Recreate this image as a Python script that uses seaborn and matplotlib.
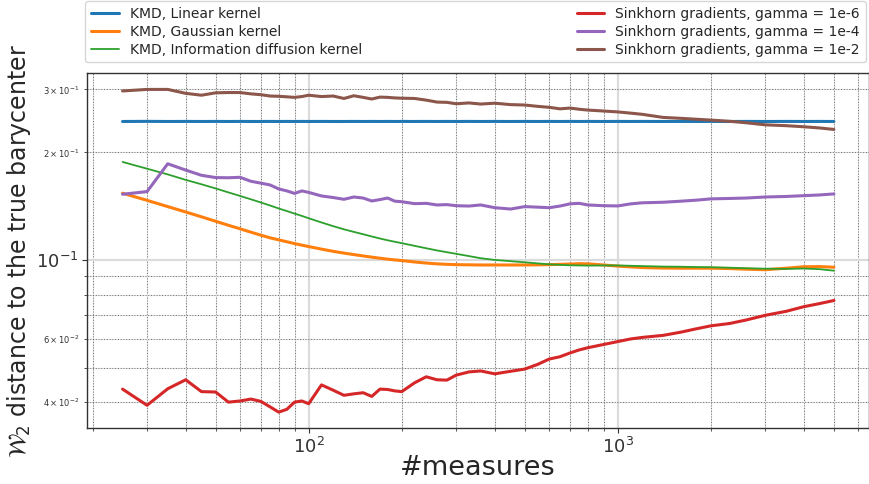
import matplotlib
matplotlib.use("Agg")
import matplotlib.pyplot as plt
import seaborn as sns
import pandas as pd

# number of input measures
measures = [25, 30, 35, 40, 45, 50, 55, 60, 65, 70, 75, 80, 85, 90, 95, 100,
            110, 120, 130, 140, 150, 160, 170, 180, 190, 200,
            220, 240, 260, 280, 300, 330, 360,
            400, 450, 500, 550, 600, 650, 700, 750, 800,
            900, 1000, 1100, 1200, 1400, 1600, 1800, 2000,
            2300, 2600, 3000, 3500, 4000, 4500, 5000]

kmd_linear = [0.2440, 0.2442, 0.2440, 0.2441, 0.2440, 0.2441, 0.2440, 0.2441, 0.2440, 0.2440,
              0.2441, 0.2440, 0.2441, 0.2440, 0.2441, 0.2440, 0.2441, 0.2440, 0.2440, 0.2441,
              0.2440, 0.2441, 0.2440, 0.2441, 0.2440, 0.2441, 0.2440, 0.2441, 0.2440, 0.2441,
              0.2440, 0.2441, 0.2440, 0.2441, 0.2440, 0.2441, 0.2440, 0.2441, 0.2440, 0.2441,
              0.2440, 0.2441, 0.2440, 0.2441, 0.2440, 0.2441, 0.2440, 0.2441, 0.2440, 0.2441,
              0.2440, 0.2441, 0.2440, 0.2441, 0.2440, 0.2441, 0.2440]

kmd_gaussian = [0.1537, 0.1468, 0.1410, 0.1362, 0.1320, 0.1283, 0.1250, 0.1222, 0.1196, 0.1173,
                0.1153, 0.1138, 0.1124, 0.1111, 0.1100, 0.1090, 0.1072, 0.1057, 0.1045, 0.1035,
                0.1026, 0.1018, 0.1011, 0.1005, 0.1000, 0.0996, 0.0987, 0.0980, 0.0975, 0.0972,
                0.0970, 0.0969, 0.0968, 0.0968, 0.0968, 0.0968, 0.0969, 0.0970, 0.0972, 0.0974,
                0.0976, 0.0975, 0.0968, 0.0961, 0.0956, 0.0952, 0.0949, 0.0948, 0.0948, 0.0948,
                0.0946, 0.0942, 0.0939, 0.0948, 0.0957, 0.0958, 0.0954]

kmd_diffusion = [0.1880, 0.1800, 0.1735, 0.1675, 0.1628, 0.1585, 0.1545, 0.1510, 0.1478, 0.1448,
                 0.1420, 0.1393, 0.1370, 0.1348, 0.1328, 0.1308, 0.1273, 0.1243, 0.1218, 0.1198,
                 0.1180, 0.1163, 0.1148, 0.1135, 0.1124, 0.1114, 0.1095, 0.1078, 0.1063, 0.1051,
                 0.1040, 0.1025, 0.1011, 0.1000, 0.0992, 0.0985, 0.0978, 0.0972, 0.0969, 0.0966,
                 0.0965, 0.0964, 0.0965, 0.0965, 0.0963, 0.0961, 0.0958, 0.0957, 0.0955, 0.0954,
                 0.0951, 0.0948, 0.0945, 0.0944, 0.0946, 0.0942, 0.0933]

sinkhorn_1e6 = [0.0435, 0.0392, 0.0436, 0.0462, 0.0428, 0.0427, 0.0400, 0.0403, 0.0408, 0.0402,
                0.0388, 0.0375, 0.0382, 0.0400, 0.0403, 0.0396, 0.0447, 0.0432, 0.0418, 0.0422,
                0.0425, 0.0415, 0.0435, 0.0434, 0.0430, 0.0428, 0.0453, 0.0471, 0.0462, 0.0461,
                0.0476, 0.0486, 0.0489, 0.0480, 0.0488, 0.0495, 0.0510, 0.0528, 0.0536, 0.0549,
                0.0560, 0.0568, 0.0580, 0.0591, 0.0601, 0.0607, 0.0615, 0.0628, 0.0642, 0.0654,
                0.0664, 0.0679, 0.0700, 0.0718, 0.0740, 0.0755, 0.0770]

sinkhorn_1e4 = [0.1527, 0.1553, 0.1858, 0.1784, 0.1725, 0.1700, 0.1698, 0.1703, 0.1660, 0.1640,
                0.1621, 0.1580, 0.1560, 0.1535, 0.1560, 0.1545, 0.1510, 0.1495, 0.1478, 0.1500,
                0.1490, 0.1462, 0.1475, 0.1490, 0.1460, 0.1455, 0.1437, 0.1440, 0.1425, 0.1428,
                0.1418, 0.1415, 0.1425, 0.1400, 0.1388, 0.1410, 0.1405, 0.1400, 0.1415, 0.1435,
                0.1440, 0.1425, 0.1418, 0.1416, 0.1435, 0.1445, 0.1450, 0.1460, 0.1470, 0.1482,
                0.1486, 0.1490, 0.1500, 0.1505, 0.1513, 0.1520, 0.1530]

sinkhorn_1e2 = [0.2970, 0.3000, 0.3000, 0.2925, 0.2890, 0.2935, 0.2940, 0.2940, 0.2915, 0.2900,
                0.2875, 0.2870, 0.2860, 0.2850, 0.2865, 0.2890, 0.2865, 0.2875, 0.2830, 0.2880,
                0.2850, 0.2820, 0.2855, 0.2850, 0.2840, 0.2835, 0.2830, 0.2800, 0.2765, 0.2760,
                0.2735, 0.2750, 0.2730, 0.2745, 0.2720, 0.2713, 0.2690, 0.2673, 0.2647, 0.2660,
                0.2640, 0.2626, 0.2610, 0.2595, 0.2575, 0.2555, 0.2505, 0.2490, 0.2475, 0.2462,
                0.2443, 0.2420, 0.2388, 0.2375, 0.2358, 0.2340, 0.2318]

labels = ["KMD, Linear kernel", "KMD, Gaussian kernel", "KMD, Information diffusion kernel",
          "Sinkhorn gradients, gamma = 1e-6", "Sinkhorn gradients, gamma = 1e-4",
          "Sinkhorn gradients, gamma = 1e-2"]
series = [kmd_linear, kmd_gaussian, kmd_diffusion, sinkhorn_1e6, sinkhorn_1e4, sinkhorn_1e2]
colors = ["#1f77b4", "#ff7f0e", "#2ca02c", "#d62728", "#9467bd", "#8c564b"]
widths = [2.2, 2.2, 1.3, 2.2, 2.2, 2.2]

sns.set_style("ticks", {"axes.edgecolor": "0.2", "xtick.color": "0.2", "ytick.color": "0.2"})
plt.rcParams["font.family"] = ["DejaVu Sans"]

fig = plt.figure(figsize=(8.7, 4.84), dpi=100)
ax = fig.add_axes([0.1, 0.1151, 0.8994, 0.7335])

for lab, vals, col, lw in zip(labels, series, colors, widths):
    df = pd.DataFrame({"measures": measures, "w2": vals})
    sns.lineplot(data=df, x="measures", y="w2", ax=ax, color=col, linewidth=lw,
                 label=lab, legend=False)

ax.set_xscale("log")
ax.set_yscale("log")
ax.margins(x=0.05, y=0.05)

ax.set_axisbelow(True)
ax.grid(True, which="major", color="0.86", linewidth=1.6, linestyle="-")
ax.grid(True, which="minor", color="0.45", linewidth=0.75, linestyle=":", gapcolor="0.88")

ax.tick_params(which="major", labelsize=13, length=3.5, width=0.8, pad=2.5)
ax.tick_params(which="minor", labelsize=6, length=2, width=0.6)
for s in ax.spines.values():
    s.set_linewidth(1.0)

ax.set_xlabel("#measures", fontsize=19.5, labelpad=-1)
ax.set_ylabel(r"$\mathcal{W}_2$ distance to the true barycenter", fontsize=17, labelpad=2)

handles, leg_labels = ax.get_legend_handles_labels()
fig.legend(handles, leg_labels, loc="upper left", ncol=2, mode="expand",
           bbox_to_anchor=(0.098, 0.0, 0.897, 0.998), bbox_transform=fig.transFigure,
           fontsize=10, labelspacing=0.3, borderaxespad=0.0)

fig.savefig("out.png", dpi=100)
